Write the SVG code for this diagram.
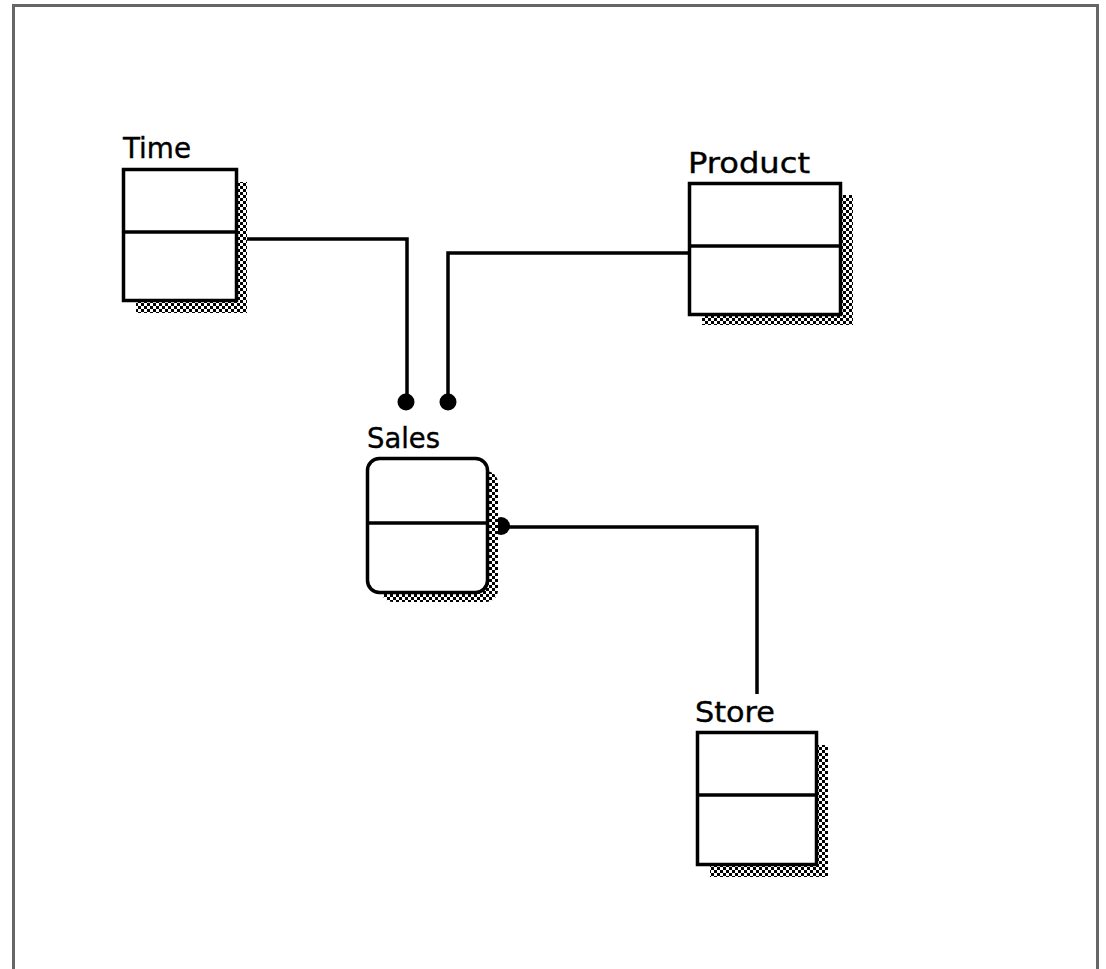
<svg xmlns="http://www.w3.org/2000/svg" width="1106" height="969" viewBox="0 0 1106 969">
<defs>
<pattern id="chk" width="6" height="6" patternUnits="userSpaceOnUse">
<rect width="6" height="6" fill="#fff"/>
<rect width="3" height="3" fill="#000"/>
<rect x="3" y="3" width="3" height="3" fill="#000"/>
</pattern>
<style>
.box{fill:#fff;stroke:#000;stroke-width:3.5}
.sh{fill:url(#chk)}
.div{stroke:#000;stroke-width:3.5}
.lbl{font-family:"DejaVu Sans","Liberation Sans",sans-serif;font-size:29px;fill:#000;stroke:#000;stroke-width:0.4}
.con{fill:none;stroke:#000;stroke-width:3.5}
.dot{fill:#000}
</style>
</defs>
<rect x="0" y="0" width="1106" height="969" fill="#fff"/>
<path d="M13.5 969 V5.5 H1097.5 V969" fill="none" stroke="#666" stroke-width="3"/>
<g id="connectors">
<path class="con" d="M237 239 H407 V400"/>
<path class="con" d="M689 253 H448 V400"/>
<path class="con" d="M500 527 H757 V694"/>
<circle class="dot" cx="406" cy="402" r="8.5"/>
<circle class="dot" cx="448" cy="402" r="8.5"/>
<circle class="dot" cx="501" cy="526" r="9"/>
</g>
<g id="time">
<rect class="sh" x="136" y="182" width="111" height="131"/>
<rect class="box" x="123.5" y="169.5" width="113" height="131"/>
<line class="div" x1="123" y1="232" x2="237" y2="232"/>
<text class="lbl" x="123" y="158" textLength="68" lengthAdjust="spacingAndGlyphs">Time</text>
</g>
<g id="product">
<rect class="sh" x="702" y="195" width="151" height="130"/>
<rect class="box" x="689.5" y="183.5" width="151" height="131"/>
<line class="div" x1="689" y1="246" x2="841" y2="246"/>
<text class="lbl" x="688" y="173" textLength="122" lengthAdjust="spacingAndGlyphs">Product</text>
</g>
<g id="sales">
<rect class="sh" x="381" y="471" width="117" height="131" rx="12"/>
<rect class="box" x="367.5" y="458.5" width="120" height="134" rx="12"/>
<line class="div" x1="367" y1="523" x2="488" y2="523"/>
<text class="lbl" x="367" y="448" textLength="73" lengthAdjust="spacingAndGlyphs">Sales</text>
</g>
<g id="store">
<rect class="sh" x="710" y="745" width="118" height="132"/>
<rect class="box" x="697.5" y="732.5" width="119" height="132"/>
<line class="div" x1="697" y1="795" x2="817" y2="795"/>
<text class="lbl" x="695" y="722" textLength="80" lengthAdjust="spacingAndGlyphs">Store</text>
</g>
</svg>
